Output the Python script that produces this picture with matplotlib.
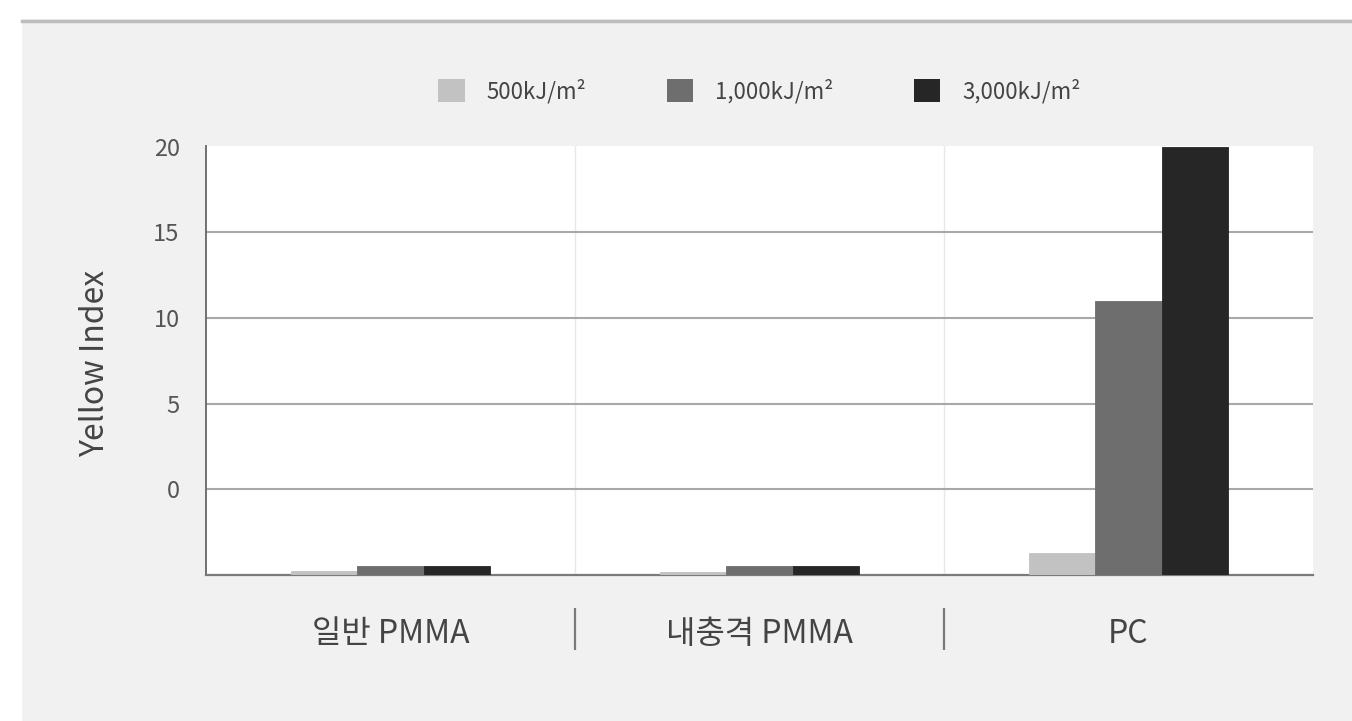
import matplotlib
matplotlib.use("Agg")
import matplotlib.pyplot as plt
import numpy as np
from matplotlib.patches import Rectangle, Patch
from matplotlib.lines import Line2D
import matplotlib.transforms as mtransforms

plt.rcParams['font.family'] = ['Noto Sans CJK KR', 'DejaVu Sans']

categories = ['일반 PMMA', '내충격 PMMA', 'PC']
series_names = ['500kJ/m²', '1,000kJ/m²', '3,000kJ/m²']
v500 = [-4.75, -4.8, -3.7]
v1000 = [-4.5, -4.5, 11.0]
v3000 = [-4.5, -4.5, 20.0]
yticks = [0, 5, 10, 15, 20]
baseline = -5

colors = ['#c2c2c2', '#6e6e6e', '#262626']

W, H = 1352, 721
fig = plt.figure(figsize=(W / 100, H / 100), dpi=100, facecolor='#f1f1f1')

# white frame strips and top rule
fig.add_artist(Rectangle((0, 0), 22 / W, 1, transform=fig.transFigure,
                         facecolor='white', edgecolor='none', zorder=0))
fig.add_artist(Rectangle((0, 1 - 19 / H), 1, 19 / H, transform=fig.transFigure,
                         facecolor='white', edgecolor='none', zorder=0))
fig.add_artist(Line2D([22 / W, 1], [1 - 20.5 / H, 1 - 20.5 / H], transform=fig.transFigure,
                      color='#bdbdbd', linewidth=2.5, zorder=1))

ax = fig.add_axes([206 / W, (H - 575) / H, (1313 - 206) / W, (575 - 146) / H])
ax.set_facecolor('white')

x = np.arange(len(categories))
bw = 0.179
series = [v500, v1000, v3000]
for i, (vals, c, name) in enumerate(zip(series, colors, series_names)):
    heights = [v - baseline for v in vals]
    ax.bar(x + (i - 1) * bw, heights, width=bw, bottom=baseline, color=c,
           edgecolor=c, linewidth=0.6, zorder=3, label=name)

ax.set_xlim(-0.5, len(categories) - 0.5)
ax.set_ylim(baseline, 20.05)
ax.set_yticks(yticks)
ax.set_yticklabels([str(t) for t in yticks])
ax.set_xticks(x)
ax.set_xticklabels(categories)

ax.tick_params(axis='y', length=0, pad=19, labelsize=17, labelcolor='#555555')
ax.tick_params(axis='x', length=0, pad=31, labelsize=23, labelcolor='#444444')

ax.grid(axis='y', color='#a8a8a8', linewidth=1.5, zorder=1)
ygl = ax.get_ygridlines()
ygl[-1].set_visible(False)

for b in [0.5, 1.5]:
    ax.axvline(b, color='#e8e8e8', linewidth=1.0, zorder=1)

trans = mtransforms.blended_transform_factory(ax.transData, ax.transAxes)
for b in [0.5, 1.5]:
    ax.plot([b, b], [-(608 - 575) / 429, -(650 - 575) / 429], transform=trans,
            color='#7a7a7a', linewidth=1.6, clip_on=False, solid_capstyle='butt')

for s in ['top', 'right']:
    ax.spines[s].set_visible(False)
ax.spines['left'].set_color('#666666')
ax.spines['left'].set_linewidth(1.3)
ax.spines['bottom'].set_color('#7a7a7a')
ax.spines['bottom'].set_linewidth(1.6)

ax.set_ylabel('Yellow Index', fontsize=23, color='#444444')
ax.yaxis.set_label_coords(-0.086, 0.494)

handles = [Patch(facecolor=c, edgecolor='none') for c in colors]
leg = ax.legend(handles, series_names, loc='center', bbox_to_anchor=(0.5, 1.0 + (146 - 91) / 429),
                ncol=3, frameon=False, fontsize=16, handlelength=1.2, handleheight=1.2,
                handletextpad=1.0, columnspacing=3.6, labelcolor='#444444')

fig.savefig('out.png', dpi=100, facecolor=fig.get_facecolor())
